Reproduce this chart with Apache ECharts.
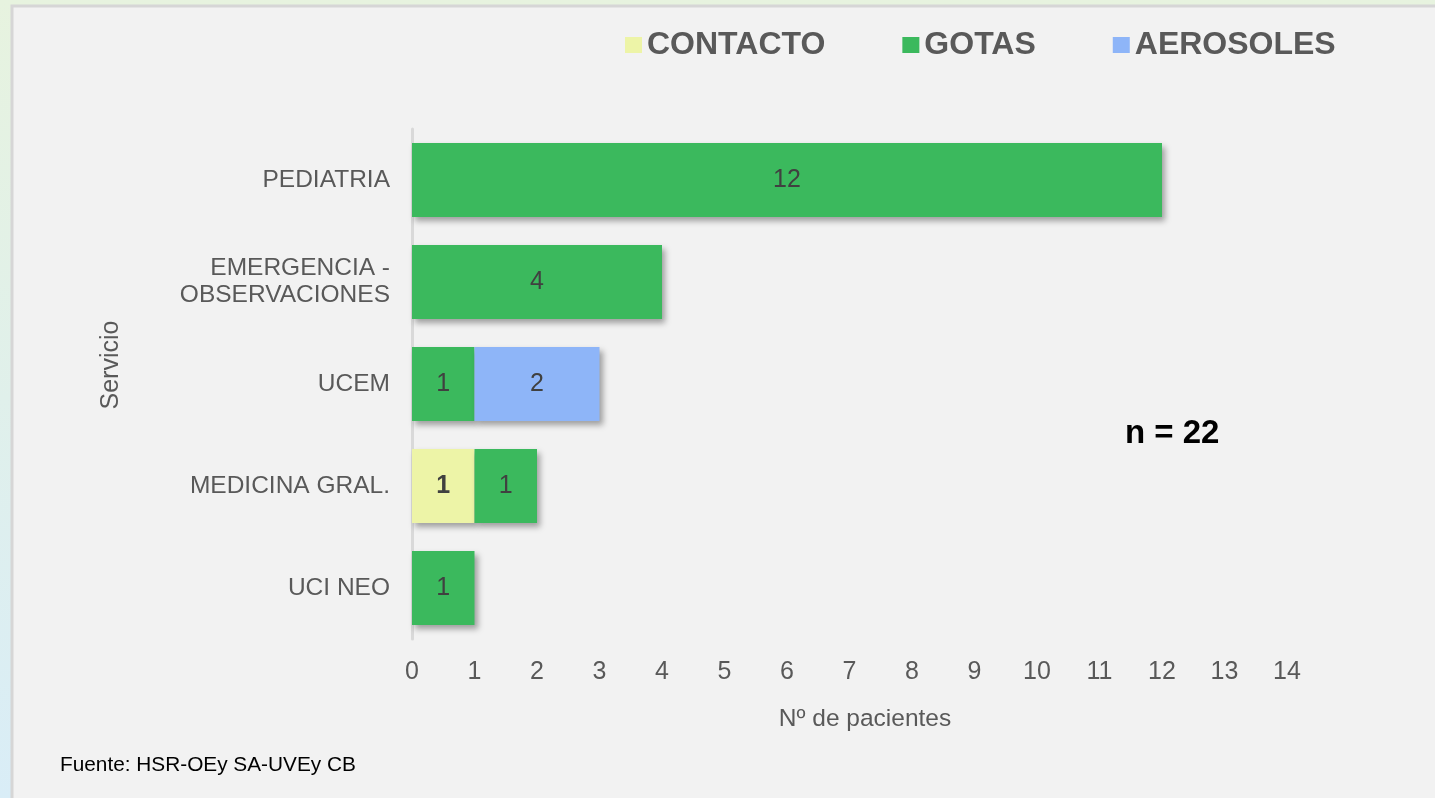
<!DOCTYPE html>
<html>

<head>
    <meta charset="utf-8" />
    <title>Servicio - Nº de pacientes</title>
    <script src="https://cdn.jsdelivr.net/npm/echarts@6/dist/echarts.min.js"></script>
    <style>
        html, body { margin: 0; padding: 0; overflow: hidden; }
    </style>
</head>

<body>
    <div id="main" style="width: 1435px;height:798px;"></div>

    <script type="text/javascript">
        // data
        var categories = ['PEDIATRIA', 'EMERGENCIA -\nOBSERVACIONES', 'UCEM', 'MEDICINA GRAL.', 'UCI NEO'];
        var contacto = [null, null, null, 1, null];
        var gotas = [12, 4, 1, 1, 1];
        var aerosoles = [null, null, 2, null, null];
        var seriesNames = ['CONTACTO', 'GOTAS', 'AEROSOLES'];
        var totalText = 'n = 22';
        var sourceText = 'Fuente: HSR-OEy SA-UVEy CB';

        var font = 'Liberation Sans, Arial, sans-serif';
        var colors = ['#edf4a7', '#3bb95d', '#8eb5f8'];

        var myChart = echarts.init(document.getElementById('main'));

        function barSeries(name, values, color, bold) {
            return {
                name: name,
                type: 'bar',
                stack: 'total',
                barWidth: 74,
                data: values,
                itemStyle: {
                    color: color,
                    shadowColor: 'rgba(0,0,0,0.35)',
                    shadowBlur: 6,
                    shadowOffsetX: 3,
                    shadowOffsetY: 4
                },
                label: {
                    show: true,
                    position: 'inside',
                    color: '#404040',
                    fontFamily: font,
                    fontSize: 25,
                    fontWeight: bold ? 'bold' : 'normal'
                },
                emphasis: { disabled: true }
            };
        }

        var option = {
            animation: false,
            backgroundColor: {
                type: 'linear', x: 0, y: 0, x2: 0, y2: 1,
                colorStops: [
                    { offset: 0, color: '#e7f3df' },
                    { offset: 1, color: '#d9edf7' }
                ]
            },
            graphic: [
                {
                    type: 'rect',
                    z: -10,
                    shape: { x: 12, y: 6, width: 1440, height: 820 },
                    style: { fill: '#f2f2f2', stroke: '#d6d6d6', lineWidth: 3 }
                },
                {
                    type: 'text',
                    left: 1125,
                    top: 417,
                    style: {
                        text: totalText,
                        fill: '#000',
                        font: 'bold 33px ' + font
                    }
                },
                {
                    type: 'text',
                    left: 60,
                    top: 755,
                    style: {
                        text: sourceText,
                        fill: '#000',
                        font: '20.8px ' + font
                    }
                }
            ],
            legend: {
                data: seriesNames,
                left: 620,
                top: 24,
                icon: 'rect',
                itemWidth: 17,
                itemHeight: 16,
                itemGap: 77,
                textStyle: {
                    color: '#595959',
                    fontFamily: font,
                    fontSize: 32,
                    fontWeight: 'bold'
                }
            },
            grid: {
                left: 412,
                right: 148,
                top: 129,
                bottom: 159,
                containLabel: false
            },
            xAxis: {
                type: 'value',
                min: 0,
                max: 14,
                interval: 1,
                name: 'Nº de pacientes',
                nameLocation: 'middle',
                nameGap: 68,
                nameTextStyle: {
                    color: '#595959',
                    fontFamily: font,
                    fontSize: 24.5,
                    padding: [0, 0, 0, 31]
                },
                axisLine: { show: false },
                axisTick: { show: false },
                splitLine: { show: false },
                axisLabel: {
                    color: '#595959',
                    fontFamily: font,
                    fontSize: 25,
                    margin: 21
                }
            },
            yAxis: {
                type: 'category',
                data: categories,
                inverse: true,
                name: 'Servicio',
                nameLocation: 'middle',
                nameRotate: 90,
                nameGap: 288,
                nameTextStyle: {
                    color: '#595959',
                    fontFamily: font,
                    fontSize: 25,
                    padding: [0, 0, 0, 38]
                },
                axisLine: { show: true, lineStyle: { color: '#d9d9d9', width: 3 } },
                axisTick: { show: false },
                axisLabel: {
                    color: '#595959',
                    fontFamily: font,
                    fontSize: 24.5,
                    lineHeight: 27,
                    margin: 22
                }
            },
            series: [
                barSeries(seriesNames[0], contacto, colors[0], true),
                barSeries(seriesNames[1], gotas, colors[1], false),
                barSeries(seriesNames[2], aerosoles, colors[2], false)
            ]
        };

        myChart.setOption(option);
    </script>
</body>

</html>
